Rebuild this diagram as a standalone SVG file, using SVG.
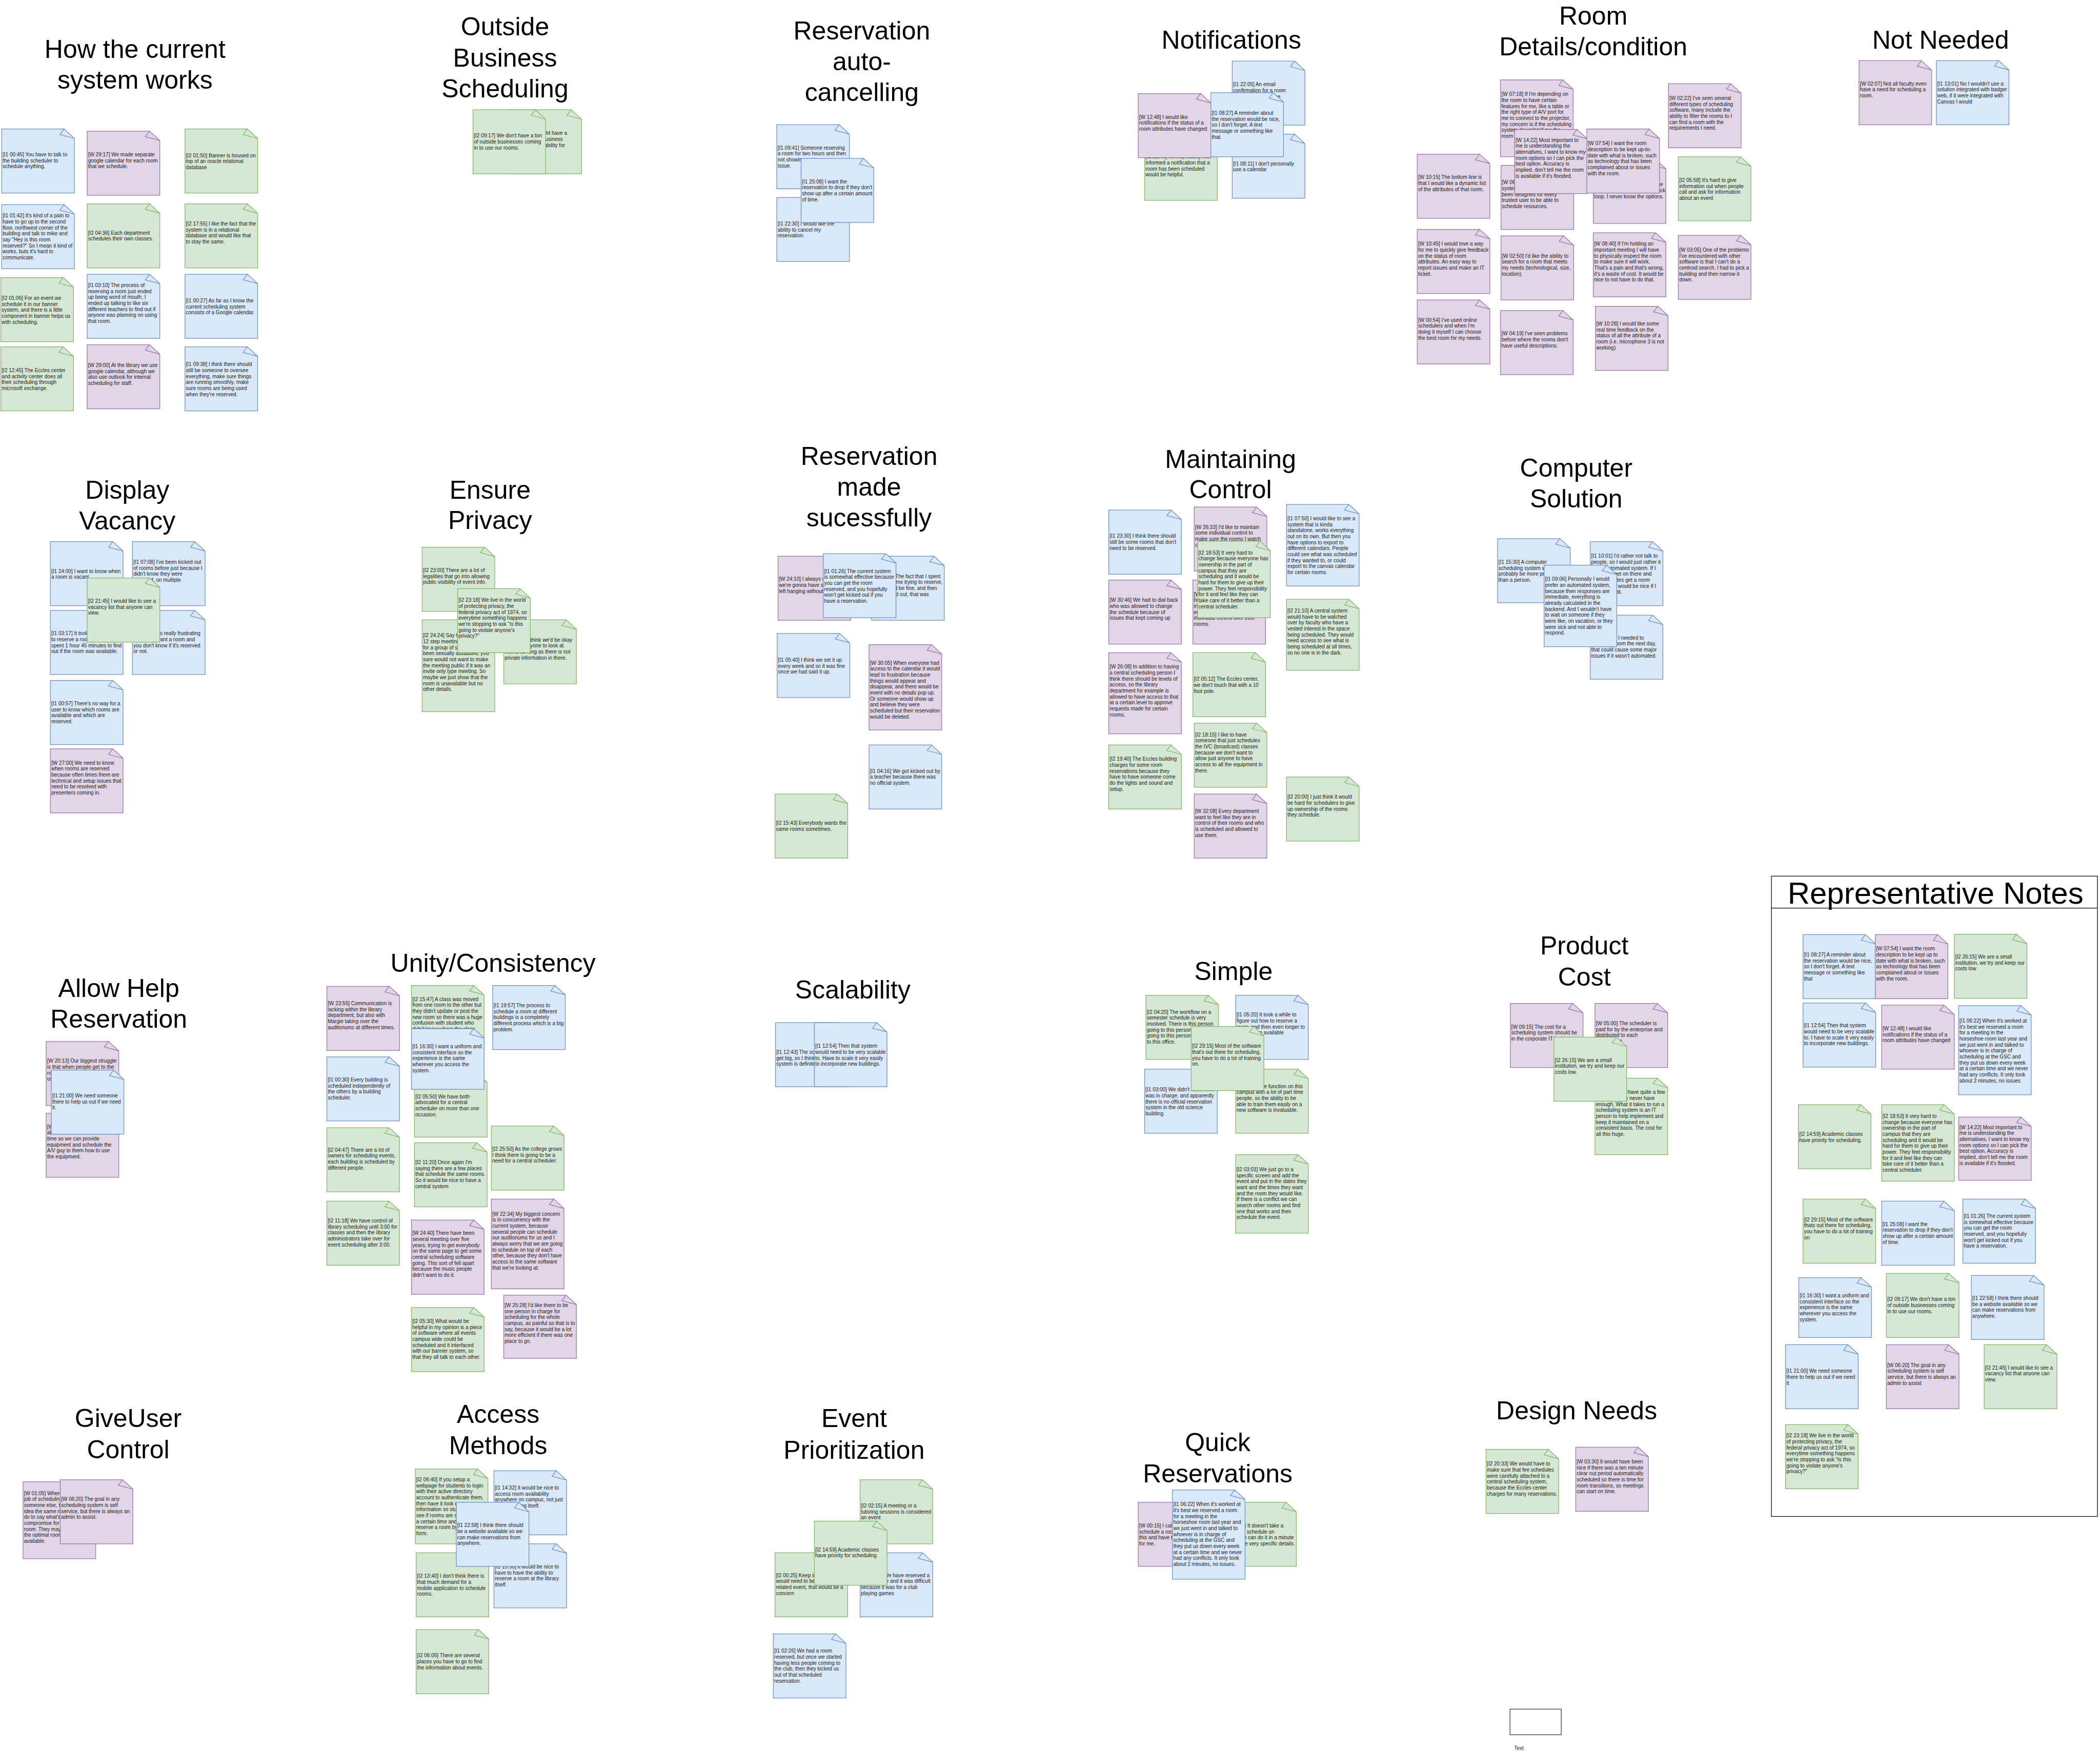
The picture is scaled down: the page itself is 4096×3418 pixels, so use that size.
<svg xmlns="http://www.w3.org/2000/svg" width="4096" height="3418" viewBox="0 0 4096 3418">
<style>
.nb{fill:#dae8fc;stroke:#6c8ebf;stroke-width:1.5}
.ng{fill:#d5e8d4;stroke:#82b366;stroke-width:1.5}
.np{fill:#e1d5e7;stroke:#9673a6;stroke-width:1.5}
.t{font-family:"Liberation Sans",Arial,Helvetica,sans-serif;font-size:12px;fill:#222;stroke:none}
.h{font-family:"Liberation Sans",Arial,Helvetica,sans-serif;font-size:60px;fill:#000;stroke:none;text-anchor:middle}
.h72{font-size:72px}
</style>
<defs><path id="nt" d="M0 0H146L170 22V150H0ZM146 0L170 22L136 13Z"/></defs>
<rect width="4096" height="3418" fill="#fff"/>
<g transform="scale(0.83337)">
<g id="titles">
<g id="t-current"><text class="h" x="316" y="136">How the current</text><text class="h" x="316" y="208">system works</text></g>
<g id="t-outside"><text class="h" x="1182" y="83">Outside</text><text class="h" x="1182" y="156">Business</text><text class="h" x="1182" y="228">Scheduling</text></g>
<g id="t-autocancel"><text class="h" x="2017" y="93">Reservation</text><text class="h" x="2017" y="164">auto-</text><text class="h" x="2017" y="236">cancelling</text></g>
<g id="t-notifications"><text class="h" x="2882" y="114">Notifications</text></g>
<g id="t-room"><text class="h" x="3729" y="58">Room</text><text class="h" x="3729" y="130">Details/condition</text></g>
<g id="t-notneeded"><text class="h" x="4542" y="114">Not Needed</text></g>
<g id="t-vacancy"><text class="h" x="298" y="1167">Display</text><text class="h" x="298" y="1239">Vacancy</text></g>
<g id="t-privacy"><text class="h" x="1147" y="1167">Ensure</text><text class="h" x="1147" y="1238">Privacy</text></g>
<g id="t-success"><text class="h" x="2034" y="1088">Reservation</text><text class="h" x="2034" y="1160">made</text><text class="h" x="2034" y="1232">sucessfully</text></g>
<g id="t-control"><text class="h" x="2880" y="1095">Maintaining</text><text class="h" x="2880" y="1166">Control</text></g>
<g id="t-computer"><text class="h" x="3689" y="1116">Computer</text><text class="h" x="3689" y="1188">Solution</text></g>
<g id="t-help"><text class="h" x="278" y="2334">Allow Help</text><text class="h" x="278" y="2406">Reservation</text></g>
<g id="t-unity"><text class="h" x="1154" y="2275">Unity/Consistency</text></g>
<g id="t-scal"><text class="h" x="1996" y="2337">Scalability</text></g>
<g id="t-simple"><text class="h" x="2887" y="2294">Simple</text></g>
<g id="t-cost"><text class="h" x="3708" y="2234">Product</text><text class="h" x="3708" y="2307">Cost</text></g>
<g id="t-giveuser"><text class="h" x="300" y="3341">GiveUser</text><text class="h" x="300" y="3414">Control</text></g>
<g id="t-access"><text class="h" x="1166" y="3331">Access</text><text class="h" x="1166" y="3404">Methods</text></g>
<g id="t-event"><text class="h" x="1999" y="3341">Event</text><text class="h" x="1999" y="3415">Prioritization</text></g>
<g id="t-quick"><text class="h" x="2850" y="3397">Quick</text><text class="h" x="2850" y="3470">Reservations</text></g>
<g id="t-design"><text class="h" x="3690" y="3323">Design Needs</text></g>
</g>
<g id="representative-notes-box"><rect x="4146" y="2051" width="763" height="1499" fill="none" stroke="#000" stroke-width="1.5"/><line x1="4146" y1="2126" x2="4909" y2="2126" stroke="#000" stroke-width="1.5"/><text class="h h72" x="4530" y="2115">Representative Notes</text></g>
<g id="legend-text"><rect x="3534" y="4001" width="120" height="60" fill="#fff" stroke="#000" stroke-width="1.2"/><text class="t" x="3544" y="4097">Text</text></g>
<g id="connectors"></g>
<g id="notes">
<g id="n1" class="nb" transform="translate(4,302)"><use href="#nt"/><text class="t" y="64"><tspan x="2">[I1 00:45] You have to talk to</tspan><tspan x="2" dy="14">the building scheduler to</tspan><tspan x="2" dy="14">schedule anything.</tspan></text></g>
<g id="n2" class="np" transform="translate(204,307)"><use href="#nt"/><text class="t" y="59"><tspan x="2">[W 29:17] We made separate</tspan><tspan x="2" dy="14">google calendar for each room</tspan><tspan x="2" dy="14">that we schedule.</tspan></text></g>
<g id="n3" class="ng" transform="translate(433,302)"><use href="#nt"/><text class="t" y="66"><tspan x="2">[I2 01:50] Banner is housed on</tspan><tspan x="2" dy="14">top of an oracle relational</tspan><tspan x="2" dy="14">database</tspan></text></g>
<g id="n4" class="nb" transform="translate(4,479)"><use href="#nt"/><text class="t" y="30"><tspan x="2">[I1 01:42]  It's kind of a pain to</tspan><tspan x="2" dy="14">have to go up to the second</tspan><tspan x="2" dy="14">floor, northwest corner of the</tspan><tspan x="2" dy="14">building and talk to mike and</tspan><tspan x="2" dy="14">say "Hey is this room</tspan><tspan x="2" dy="14">reserved?" So I mean it kind of</tspan><tspan x="2" dy="14">works, buts it's hard to</tspan><tspan x="2" dy="14">communicate.</tspan></text></g>
<g id="n5" class="ng" transform="translate(204,477)"><use href="#nt"/><text class="t" y="72"><tspan x="2">[I2 04:36] Each department</tspan><tspan x="2" dy="14">schedules their own classes.</tspan></text></g>
<g id="n6" class="ng" transform="translate(433,477)"><use href="#nt"/><text class="t" y="51"><tspan x="2">[I2 17:55] I like the fact that the</tspan><tspan x="2" dy="14">system is in a relational</tspan><tspan x="2" dy="14">database and would like that</tspan><tspan x="2" dy="14">to stay the same.</tspan></text></g>
<g id="n7" class="ng" transform="translate(2,650)"><use href="#nt"/><text class="t" y="52"><tspan x="2">[I2 01:06] For an event we</tspan><tspan x="2" dy="14">schedule it in our banner</tspan><tspan x="2" dy="14">system, and there is a little</tspan><tspan x="2" dy="14">component in banner helps us</tspan><tspan x="2" dy="14">with scheduling.</tspan></text></g>
<g id="n8" class="nb" transform="translate(204,642)"><use href="#nt"/><text class="t" y="30"><tspan x="2">[I1 03:10] The process of</tspan><tspan x="2" dy="14">reserving a room just ended</tspan><tspan x="2" dy="14">up being word of mouth, I</tspan><tspan x="2" dy="14">ended up talking to like six</tspan><tspan x="2" dy="14">different teachers to find out if</tspan><tspan x="2" dy="14">anyone was planning on using</tspan><tspan x="2" dy="14">that room.</tspan></text></g>
<g id="n9" class="nb" transform="translate(433,642)"><use href="#nt"/><text class="t" y="66"><tspan x="2">[I1 00:27] As far as I know the</tspan><tspan x="2" dy="14">current scheduling system</tspan><tspan x="2" dy="14">consists of a Google calendar.</tspan></text></g>
<g id="n10" class="ng" transform="translate(2,812)"><use href="#nt"/><text class="t" y="59"><tspan x="2">[I2 12:45] The Eccles center</tspan><tspan x="2" dy="14">and activity center does all</tspan><tspan x="2" dy="14">their scheduling through</tspan><tspan x="2" dy="14">microsoft exchange.</tspan></text></g>
<g id="n11" class="np" transform="translate(204,807)"><use href="#nt"/><text class="t" y="52"><tspan x="2">[W 29:00] At the library we use</tspan><tspan x="2" dy="14">google calendar, although we</tspan><tspan x="2" dy="14">also use outlook for internal</tspan><tspan x="2" dy="14">scheduling for staff.</tspan></text></g>
<g id="n12" class="nb" transform="translate(433,812)"><use href="#nt"/><text class="t" y="45"><tspan x="2">[I1 09:38] I think there should</tspan><tspan x="2" dy="14">still be someone to oversee</tspan><tspan x="2" dy="14">everything, make sure things</tspan><tspan x="2" dy="14">are running smoothly, make</tspan><tspan x="2" dy="14">sure rooms are being used</tspan><tspan x="2" dy="14">when they're reserved.</tspan></text></g>
<g id="n13" class="ng" transform="translate(1191,257)"><use href="#nt"/><text class="t" y="59"><tspan x="2">[I2 09:24] It would have a</tspan><tspan x="2" dy="14">nice if outside business</tspan><tspan x="2" dy="14">could have the ability for</tspan><tspan x="2" dy="14">scheduling.</tspan></text></g>
<g id="n14" class="ng" transform="translate(1107,257)"><use href="#nt"/><text class="t" y="65"><tspan x="2">[I2 09:17] We don't have a ton</tspan><tspan x="2" dy="14">of outside businesses coming</tspan><tspan x="2" dy="14">in to use our rooms.</tspan></text></g>
<g id="n15" class="nb" transform="translate(1818,292)"><use href="#nt"/><text class="t" y="58"><tspan x="2">[I1 09:41] Someone reserving</tspan><tspan x="2" dy="14">a room for two hours and then</tspan><tspan x="2" dy="14">not showing up is an</tspan><tspan x="2" dy="14">issue.</tspan></text></g>
<g id="n16" class="nb" transform="translate(1818,462)"><use href="#nt"/><text class="t" y="66"><tspan x="2">[I1 22:30] I would like the</tspan><tspan x="2" dy="14">ability to cancel my</tspan><tspan x="2" dy="14">reservation.</tspan></text></g>
<g id="n17" class="nb" transform="translate(1875,371)"><use href="#nt"/><text class="t" y="58"><tspan x="2">[I1 25:08] I want the</tspan><tspan x="2" dy="14">reservation to drop if they don't</tspan><tspan x="2" dy="14">show up after a certain amount</tspan><tspan x="2" dy="14">of time.</tspan></text></g>
<g id="n18" class="nb" transform="translate(2884,143)"><use href="#nt"/><text class="t" y="59"><tspan x="2">[I1 22:05] An email</tspan><tspan x="2" dy="14">confirmation for a room</tspan><tspan x="2" dy="14">reservation would be</tspan><tspan x="2" dy="14">nice.</tspan></text></g>
<g id="n19" class="nb" transform="translate(2884,314)"><use href="#nt"/><text class="t" y="73"><tspan x="2">[I1 08:11] I don't personally</tspan><tspan x="2" dy="14">use a calendar</tspan></text></g>
<g id="n20" class="ng" transform="translate(2679,319)"><use href="#nt"/><text class="t" y="52"><tspan x="2">[I2 23:40] To help faculty feel</tspan><tspan x="2" dy="14">informed a notification that a</tspan><tspan x="2" dy="14">room has been scheduled</tspan><tspan x="2" dy="14">would be helpful.</tspan></text></g>
<g id="n21" class="np" transform="translate(2664,219)"><use href="#nt"/><text class="t" y="59"><tspan x="2">[W 12:48] I would like</tspan><tspan x="2" dy="14">notifications if the status of a</tspan><tspan x="2" dy="14">room attributes have changed.</tspan></text></g>
<g id="n22" class="nb" transform="translate(2834,217)"><use href="#nt"/><text class="t" y="52"><tspan x="2">[I1 08:27] A reminder about</tspan><tspan x="2" dy="14">the reservation would be nice,</tspan><tspan x="2" dy="14">so I don't forget. A text</tspan><tspan x="2" dy="14">message or something like</tspan><tspan x="2" dy="14">that.</tspan></text></g>
<g id="n23" class="np" transform="translate(3512,187)"><path d="M0 0H146L170 22V180H0ZM146 0L170 22L136 13Z"/><text class="t" y="38"><tspan x="2">[W 07:18] If I'm depending on</tspan><tspan x="2" dy="14">the room to have certain</tspan><tspan x="2" dy="14">features for me, like a table or</tspan><tspan x="2" dy="14">the right type of A/V port for</tspan><tspan x="2" dy="14">me to connect to the projector,</tspan><tspan x="2" dy="14">my concern is if the scheduling</tspan><tspan x="2" dy="14">system doesn't tell me the</tspan><tspan x="2" dy="14">room has them.</tspan></text></g>
<g id="n24" class="np" transform="translate(3513,387)"><use href="#nt"/><text class="t" y="44"><tspan x="2">[W 06:35] The current</tspan><tspan x="2" dy="14">system has not really</tspan><tspan x="2" dy="14">been designed for every</tspan><tspan x="2" dy="14">trusted user to be able to</tspan><tspan x="2" dy="14">schedule resources.</tspan></text></g>
<g id="n25" class="np" transform="translate(3545,303)"><use href="#nt"/><text class="t" y="29"><tspan x="2">[W 14:22] Most important to</tspan><tspan x="2" dy="14">me is understanding the</tspan><tspan x="2" dy="14">alternatives, I want to know my</tspan><tspan x="2" dy="14">room options so I can pick the</tspan><tspan x="2" dy="14">best option. Accuracy is</tspan><tspan x="2" dy="14">implied, don't tell me the room</tspan><tspan x="2" dy="14">is available if it's flooded.</tspan></text></g>
<g id="n26" class="np" transform="translate(3317,361)"><use href="#nt"/><text class="t" y="58"><tspan x="2">[W 10:15] The bottom line is</tspan><tspan x="2" dy="14">that I would like a dynamic list</tspan><tspan x="2" dy="14">of the attributes of that room.</tspan></text></g>
<g id="n27" class="np" transform="translate(3317,537)"><use href="#nt"/><text class="t" y="38"><tspan x="2">[W 10:45] I would love a way</tspan><tspan x="2" dy="14">for me to quickly give feedback</tspan><tspan x="2" dy="14">on the status of room</tspan><tspan x="2" dy="14">attributes. An easy way to</tspan><tspan x="2" dy="14">report issues and make an IT</tspan><tspan x="2" dy="14">ticket.</tspan></text></g>
<g id="n28" class="np" transform="translate(3513,552)"><use href="#nt"/><text class="t" y="51"><tspan x="2">[W 02:50] I'd like the ability to</tspan><tspan x="2" dy="14">search for a room that meets</tspan><tspan x="2" dy="14">my needs (technological, size,</tspan><tspan x="2" dy="14">location).</tspan></text></g>
<g id="n29" class="np" transform="translate(3317,702)"><use href="#nt"/><text class="t" y="51"><tspan x="2">[W 00:54] I've used online</tspan><tspan x="2" dy="14">schedulers and when I'm</tspan><tspan x="2" dy="14">doing it myself I can choose</tspan><tspan x="2" dy="14">the best room for my needs.</tspan></text></g>
<g id="n30" class="np" transform="translate(3512,727)"><use href="#nt"/><text class="t" y="58"><tspan x="2">[W 04:19] I've seen problems</tspan><tspan x="2" dy="14">before where the rooms don't</tspan><tspan x="2" dy="14">have useful descriptions.</tspan></text></g>
<g id="n31" class="np" transform="translate(3729,373)"><use href="#nt"/><text class="t" y="49"><tspan x="2">[W 09:02] I report issues but</tspan><tspan x="2" dy="14">never hear back, I'm not in the</tspan><tspan x="2" dy="14">communication or the feedback</tspan><tspan x="2" dy="14">loop. I never know the options.</tspan></text></g>
<g id="n32" class="np" transform="translate(3714,302)"><use href="#nt"/><text class="t" y="38"><tspan x="2">[W 07:54] I want the room</tspan><tspan x="2" dy="14">description to be kept up-to-</tspan><tspan x="2" dy="14">date with what is broken, such</tspan><tspan x="2" dy="14">as technology that has been</tspan><tspan x="2" dy="14">complained about or issues</tspan><tspan x="2" dy="14">with the room.</tspan></text></g>
<g id="n33" class="np" transform="translate(3905,196)"><use href="#nt"/><text class="t" y="38"><tspan x="2">[W 02:22] I've seen several</tspan><tspan x="2" dy="14">different types of scheduling</tspan><tspan x="2" dy="14">software, many include the</tspan><tspan x="2" dy="14">ability to filter the rooms to I</tspan><tspan x="2" dy="14">can find a room with the</tspan><tspan x="2" dy="14">requirements I need.</tspan></text></g>
<g id="n34" class="ng" transform="translate(3928,367)"><use href="#nt"/><text class="t" y="59"><tspan x="2">[I2 05:58] It's hard to give</tspan><tspan x="2" dy="14">information out when people</tspan><tspan x="2" dy="14">call and ask for information</tspan><tspan x="2" dy="14">about an event</tspan></text></g>
<g id="n35" class="np" transform="translate(3729,545)"><use href="#nt"/><text class="t" y="30"><tspan x="2">[W 08:40] If I'm holding an</tspan><tspan x="2" dy="14">important meeting I will have</tspan><tspan x="2" dy="14">to physically inspect the room</tspan><tspan x="2" dy="14">to make sure it will work.</tspan><tspan x="2" dy="14">That's a pain and that's wrong,</tspan><tspan x="2" dy="14">it's a waste of cost. It would be</tspan><tspan x="2" dy="14">nice to not have to do that.</tspan></text></g>
<g id="n36" class="np" transform="translate(3928,551)"><use href="#nt"/><text class="t" y="38"><tspan x="2">[W 03:05] One of the problems</tspan><tspan x="2" dy="14">I've encountered with other</tspan><tspan x="2" dy="14">software is that I can't do a</tspan><tspan x="2" dy="14">centroid search. I had to pick a</tspan><tspan x="2" dy="14">building and then narrow it</tspan><tspan x="2" dy="14">down.</tspan></text></g>
<g id="n37" class="np" transform="translate(3734,717)"><use href="#nt"/><text class="t" y="45"><tspan x="2">[W 10:28] I would like some</tspan><tspan x="2" dy="14">real time feedback on the</tspan><tspan x="2" dy="14">status of all the attribute of a</tspan><tspan x="2" dy="14">room (i.e. microphone 3 is not</tspan><tspan x="2" dy="14">working)</tspan></text></g>
<g id="n38" class="np" transform="translate(4351,142)"><use href="#nt"/><text class="t" y="58"><tspan x="2">[W 02:07] Not all faculty even</tspan><tspan x="2" dy="14">have a need for scheduling a</tspan><tspan x="2" dy="14">room.</tspan></text></g>
<g id="n39" class="nb" transform="translate(4532,142)"><use href="#nt"/><text class="t" y="58"><tspan x="2">[I1 13:01] No I wouldn't use a</tspan><tspan x="2" dy="14">solution integrated with badger</tspan><tspan x="2" dy="14">web, if it were integrated with</tspan><tspan x="2" dy="14">Canvas I would</tspan></text></g>
<g id="n40" class="nb" transform="translate(118,1268)"><use href="#nt"/><text class="t" y="73"><tspan x="2">[I1 24:00] I want to know when</tspan><tspan x="2" dy="14">a room is vacant.</tspan></text></g>
<g id="n41" class="nb" transform="translate(310,1268)"><use href="#nt"/><text class="t" y="52"><tspan x="2">[I1 07:08] I've been kicked out</tspan><tspan x="2" dy="14">of rooms before just because I</tspan><tspan x="2" dy="14">didn't know they were</tspan><tspan x="2" dy="14">reserved, on multiple</tspan><tspan x="2" dy="14">occasions.</tspan></text></g>
<g id="n42" class="nb" transform="translate(118,1429)"><use href="#nt"/><text class="t" y="58"><tspan x="2">[I1 03:17] It took me forever</tspan><tspan x="2" dy="14">to reserve a room. I once</tspan><tspan x="2" dy="14">spent 1 hour 45 minutes to find</tspan><tspan x="2" dy="14">out if the room was available.</tspan></text></g>
<g id="n43" class="nb" transform="translate(310,1429)"><use href="#nt"/><text class="t" y="58"><tspan x="2">[I1 07:25] It's really frustrating</tspan><tspan x="2" dy="14">when you want a room and</tspan><tspan x="2" dy="14">you don't know if it's reserved</tspan><tspan x="2" dy="14">or not.</tspan></text></g>
<g id="n44" class="ng" transform="translate(204,1353)"><use href="#nt"/><text class="t" y="58"><tspan x="2">[I2 21:45] I would like to see a</tspan><tspan x="2" dy="14">vacancy list that anyone can</tspan><tspan x="2" dy="14">view.</tspan></text></g>
<g id="n45" class="nb" transform="translate(118,1593)"><use href="#nt"/><text class="t" y="58"><tspan x="2">[I1 00:57] There's no way for a</tspan><tspan x="2" dy="14">user to know which rooms are</tspan><tspan x="2" dy="14">available and which are</tspan><tspan x="2" dy="14">reserved.</tspan></text></g>
<g id="n46" class="np" transform="translate(118,1753)"><use href="#nt"/><text class="t" y="37"><tspan x="2">[W 27:00] We need to know</tspan><tspan x="2" dy="14">when rooms are reserved</tspan><tspan x="2" dy="14">because often times there are</tspan><tspan x="2" dy="14">technical and setup issues that</tspan><tspan x="2" dy="14">need to be resolved with</tspan><tspan x="2" dy="14">presenters coming in.</tspan></text></g>
<g id="n47" class="ng" transform="translate(988,1281)"><use href="#nt"/><text class="t" y="58"><tspan x="2">[I2 23:00]  There are a lot of</tspan><tspan x="2" dy="14">legalities that go into allowing</tspan><tspan x="2" dy="14">public visibility of event info.</tspan></text></g>
<g id="n48" class="ng" transform="translate(988,1451)"><path d="M0 0H146L170 22V215H0ZM146 0L170 22L136 13Z"/><text class="t" y="41"><tspan x="2">[I2 24:24] Say there's a</tspan><tspan x="2" dy="14">12 step meeting, or a meeting</tspan><tspan x="2" dy="14">for a group of students who've</tspan><tspan x="2" dy="14">been sexually assaulted, you</tspan><tspan x="2" dy="14">sure would not want to make</tspan><tspan x="2" dy="14">the meeting public if it was an</tspan><tspan x="2" dy="14">invite only type meeting. So</tspan><tspan x="2" dy="14">maybe we just show that the</tspan><tspan x="2" dy="14">room is unavailable but no</tspan><tspan x="2" dy="14">other details.</tspan></text></g>
<g id="n49" class="ng" transform="translate(1179,1451)"><use href="#nt"/><text class="t" y="51"><tspan x="2">[I2 24:50] I think we'd be okay</tspan><tspan x="2" dy="14">allowing anyone to look at</tspan><tspan x="2" dy="14">rooms as long as there is not</tspan><tspan x="2" dy="14">private information in there.</tspan></text></g>
<g id="n50" class="ng" transform="translate(1071,1378)"><use href="#nt"/><text class="t" y="31"><tspan x="2">[I2 23:18] We live in the world</tspan><tspan x="2" dy="14">of protecting privacy, the</tspan><tspan x="2" dy="14">federal privacy act of 1974, so</tspan><tspan x="2" dy="14">everytime something happens</tspan><tspan x="2" dy="14">we're stopping to ask “Is this</tspan><tspan x="2" dy="14">going to violate anyone's</tspan><tspan x="2" dy="14">privacy?”</tspan></text></g>
<g id="n51" class="np" transform="translate(1821,1302)"><use href="#nt"/><text class="t" y="58"><tspan x="2">[W 24:10] I always worry</tspan><tspan x="2" dy="14">we're gonna have someone</tspan><tspan x="2" dy="14">left hanging without a room.</tspan></text></g>
<g id="n52" class="nb" transform="translate(2040,1302)"><use href="#nt"/><text class="t" y="51"><tspan x="2">[I1 06:00] The fact that I spent</tspan><tspan x="2" dy="14">so much time trying to reserve,</tspan><tspan x="2" dy="14">thought it'd be fine, and then</tspan><tspan x="2" dy="14">I got kicked out, that was</tspan></text></g>
<g id="n53" class="nb" transform="translate(1927,1296)"><use href="#nt"/><text class="t" y="45"><tspan x="2">[I1 01:26] The current system</tspan><tspan x="2" dy="14">is somewhat effective because</tspan><tspan x="2" dy="14">you can get the room</tspan><tspan x="2" dy="14">reserved, and you hopefully</tspan><tspan x="2" dy="14">won't get kicked out if you</tspan><tspan x="2" dy="14">have a reservation.</tspan></text></g>
<g id="n54" class="nb" transform="translate(1819,1483)"><use href="#nt"/><text class="t" y="66"><tspan x="2">[I1 05:40] I think we set it up</tspan><tspan x="2" dy="14">every week and so it was fine</tspan><tspan x="2" dy="14">once we had said it up.</tspan></text></g>
<g id="n55" class="np" transform="translate(2034,1509)"><path d="M0 0H146L170 22V200H0ZM146 0L170 22L136 13Z"/><text class="t" y="47"><tspan x="2">[W 30:05] When everyone had</tspan><tspan x="2" dy="14">access to the calendar it would</tspan><tspan x="2" dy="14">lead to frustration because</tspan><tspan x="2" dy="14">things would appear and</tspan><tspan x="2" dy="14">disappear, and there would be</tspan><tspan x="2" dy="14">event with no details pop up.</tspan><tspan x="2" dy="14">Or someone would show up</tspan><tspan x="2" dy="14">and believe they were</tspan><tspan x="2" dy="14">scheduled but their reservation</tspan><tspan x="2" dy="14">would be deleted.</tspan></text></g>
<g id="n56" class="nb" transform="translate(2034,1744)"><use href="#nt"/><text class="t" y="65"><tspan x="2">[I1 04:16] We got kicked out by</tspan><tspan x="2" dy="14">a teacher because there was</tspan><tspan x="2" dy="14">no official system.</tspan></text></g>
<g id="n57" class="ng" transform="translate(1814,1859)"><use href="#nt"/><text class="t" y="72"><tspan x="2">[I2 15:43] Everybody wants the</tspan><tspan x="2" dy="14">same rooms sometimes.</tspan></text></g>
<g id="n58" class="nb" transform="translate(2595,1194)"><use href="#nt"/><text class="t" y="65"><tspan x="2">[I1 23:30] I think there should</tspan><tspan x="2" dy="14">still be some rooms that don't</tspan><tspan x="2" dy="14">need to be reserved.</tspan></text></g>
<g id="n59" class="np" transform="translate(2795,1187)"><use href="#nt"/><text class="t" y="51"><tspan x="2">[W 26:33] I'd like to maintain</tspan><tspan x="2" dy="14">some individual control to</tspan><tspan x="2" dy="14">make sure the rooms I watch</tspan><tspan x="2" dy="14">over are taken care of.</tspan></text></g>
<g id="n60" class="np" transform="translate(2792,1358)"><use href="#nt"/><text class="t" y="37"><tspan x="2">[W 31:15] Each department</tspan><tspan x="2" dy="14">believes they should have</tspan><tspan x="2" dy="14">in some way their own</tspan><tspan x="2" dy="14">equal and</tspan><tspan x="2" dy="14">individual control over their</tspan><tspan x="2" dy="14">rooms.</tspan></text></g>
<g id="n61" class="ng" transform="translate(2803,1267)"><path d="M0 0H146L170 22V179H0ZM146 0L170 22L136 13Z"/><text class="t" y="31"><tspan x="2">[I2 18:53] It very hard to</tspan><tspan x="2" dy="14">change because everyone has</tspan><tspan x="2" dy="14">ownership in the part of</tspan><tspan x="2" dy="14">campus that they are</tspan><tspan x="2" dy="14">scheduling and it would be</tspan><tspan x="2" dy="14">hard for them to give up their</tspan><tspan x="2" dy="14">power. They feel responsibility</tspan><tspan x="2" dy="14">for it and feel like they can</tspan><tspan x="2" dy="14">take care of it better than a</tspan><tspan x="2" dy="14">central scheduler.</tspan></text></g>
<g id="n62" class="nb" transform="translate(3011,1181)"><path d="M0 0H146L170 22V191H0ZM146 0L170 22L136 13Z"/><text class="t" y="37"><tspan x="2">[I1 07:50] I would like to see a</tspan><tspan x="2" dy="14">system that is kinda</tspan><tspan x="2" dy="14">standalone, works everything</tspan><tspan x="2" dy="14">out on its own. But then you</tspan><tspan x="2" dy="14">have options to export to</tspan><tspan x="2" dy="14">different calendars. People</tspan><tspan x="2" dy="14">could see what was scheduled</tspan><tspan x="2" dy="14">if they wanted to, or could</tspan><tspan x="2" dy="14">export to the canvas calendar</tspan><tspan x="2" dy="14">for certain rooms.</tspan></text></g>
<g id="n63" class="np" transform="translate(2595,1358)"><use href="#nt"/><text class="t" y="51"><tspan x="2">[W 30:46] We had to dial back</tspan><tspan x="2" dy="14">who was allowed to change</tspan><tspan x="2" dy="14">the schedule because of</tspan><tspan x="2" dy="14">issues that kept coming up</tspan></text></g>
<g id="n64" class="ng" transform="translate(3011,1403)"><path d="M0 0H146L170 22V166H0ZM146 0L170 22L136 13Z"/><text class="t" y="31"><tspan x="2">[I2 21:10] A central system</tspan><tspan x="2" dy="14">would have to be watched</tspan><tspan x="2" dy="14">over by faculty who have a</tspan><tspan x="2" dy="14">vested interest in the space</tspan><tspan x="2" dy="14">being scheduled. They would</tspan><tspan x="2" dy="14">need access to see what is</tspan><tspan x="2" dy="14">being scheduled at all times,</tspan><tspan x="2" dy="14">so no one is in the dark.</tspan></text></g>
<g id="n65" class="np" transform="translate(2595,1528)"><path d="M0 0H146L170 22V190H0ZM146 0L170 22L136 13Z"/><text class="t" y="37"><tspan x="2">[W 26:08] In addition to having</tspan><tspan x="2" dy="14">a central scheduling person I</tspan><tspan x="2" dy="14">think there should be levels of</tspan><tspan x="2" dy="14">access, so the library</tspan><tspan x="2" dy="14">department for example is</tspan><tspan x="2" dy="14">allowed to have access to that</tspan><tspan x="2" dy="14">at a certain level to approve</tspan><tspan x="2" dy="14">requests made for certain</tspan><tspan x="2" dy="14">rooms.</tspan></text></g>
<g id="n66" class="ng" transform="translate(2792,1528)"><use href="#nt"/><text class="t" y="66"><tspan x="2">[I2 05:12] The Eccles center,</tspan><tspan x="2" dy="14">we don't touch that with a 10</tspan><tspan x="2" dy="14">foot pole.</tspan></text></g>
<g id="n67" class="ng" transform="translate(2795,1693)"><use href="#nt"/><text class="t" y="31"><tspan x="2">[I2 18:15] I like to have</tspan><tspan x="2" dy="14">someone that just schedules</tspan><tspan x="2" dy="14">the IVC (broadcast) classes</tspan><tspan x="2" dy="14">because we don't want to</tspan><tspan x="2" dy="14">allow just anyone to have</tspan><tspan x="2" dy="14">access to all the equipment in</tspan><tspan x="2" dy="14">there.</tspan></text></g>
<g id="n68" class="ng" transform="translate(2595,1744)"><use href="#nt"/><text class="t" y="37"><tspan x="2">[I2 19:40] The Eccles building</tspan><tspan x="2" dy="14">charges for some room</tspan><tspan x="2" dy="14">reservations because they</tspan><tspan x="2" dy="14">have to have someone come</tspan><tspan x="2" dy="14">do the lights and sound and</tspan><tspan x="2" dy="14">setup.</tspan></text></g>
<g id="n69" class="np" transform="translate(2795,1859)"><use href="#nt"/><text class="t" y="44"><tspan x="2">[W 32:08] Every department</tspan><tspan x="2" dy="14">want to feel like they are in</tspan><tspan x="2" dy="14">control of their rooms and who</tspan><tspan x="2" dy="14">is scheduled and allowed to</tspan><tspan x="2" dy="14">use them.</tspan></text></g>
<g id="n70" class="ng" transform="translate(3011,1819)"><use href="#nt"/><text class="t" y="51"><tspan x="2">[I2 20:00] I just think it would</tspan><tspan x="2" dy="14">be hard for schedulers to give</tspan><tspan x="2" dy="14">up ownership of the rooms</tspan><tspan x="2" dy="14">they schedule.</tspan></text></g>
<g id="n71" class="nb" transform="translate(3505,1261)"><use href="#nt"/><text class="t" y="59"><tspan x="2">[I1 15:30] A computer</tspan><tspan x="2" dy="14">scheduling system would</tspan><tspan x="2" dy="14">probably be more precise</tspan><tspan x="2" dy="14">than a person.</tspan></text></g>
<g id="n72" class="nb" transform="translate(3722,1268)"><use href="#nt"/><text class="t" y="38"><tspan x="2">[I1 10:01]  I'd rather not talk to</tspan><tspan x="2" dy="14">people, so I would just rather it</tspan><tspan x="2" dy="14">be an automated system. If I</tspan><tspan x="2" dy="14">could just get on there and</tspan><tspan x="2" dy="14">in five minutes get a room</tspan><tspan x="2" dy="14">reserved, it would be nice if I</tspan><tspan x="2" dy="14">could do that.</tspan></text></g>
<g id="n73" class="nb" transform="translate(3722,1440)"><use href="#nt"/><text class="t" y="57"><tspan x="2">[I1 10:15] If I needed to</tspan><tspan x="2" dy="14">reserve a room the next day,</tspan><tspan x="2" dy="14">that could cause some major</tspan><tspan x="2" dy="14">issues if it wasn't automated.</tspan></text></g>
<g id="n74" class="nb" transform="translate(3614,1323)"><path d="M0 0H146L170 22V191H0ZM146 0L170 22L136 13Z"/><text class="t" y="37"><tspan x="2">[I1 09:06] Personally I would</tspan><tspan x="2" dy="14">prefer an automated system,</tspan><tspan x="2" dy="14">because then responses are</tspan><tspan x="2" dy="14">immediate, everything is</tspan><tspan x="2" dy="14">already calculated in the</tspan><tspan x="2" dy="14">backend. And I wouldn't have</tspan><tspan x="2" dy="14">to wait on someone if they</tspan><tspan x="2" dy="14">were like, on vacation, or they</tspan><tspan x="2" dy="14">were sick and not able to</tspan><tspan x="2" dy="14">respond.</tspan></text></g>
<g id="n75" class="np" transform="translate(108,2438)"><use href="#nt"/><text class="t" y="50"><tspan x="2">[W 20:13] Our biggest struggle</tspan><tspan x="2" dy="14">is that when people get to the</tspan><tspan x="2" dy="14">room they don't know how to</tspan><tspan x="2" dy="14">use the equipment.</tspan></text></g>
<g id="n76" class="np" transform="translate(108,2606)"><use href="#nt"/><text class="t" y="36"><tspan x="2">[W 20:40] We need to know</tspan><tspan x="2" dy="14">about a reservation ahead of</tspan><tspan x="2" dy="14">time so we can provide</tspan><tspan x="2" dy="14">equipment and schedule the</tspan><tspan x="2" dy="14">A/V guy to them how to use</tspan><tspan x="2" dy="14">the equipment.</tspan></text></g>
<g id="n77" class="nb" transform="translate(120,2505)"><use href="#nt"/><text class="t" y="64"><tspan x="2">[I1 21:00] We need someone</tspan><tspan x="2" dy="14">there to help us out if we need</tspan><tspan x="2" dy="14">it.</tspan></text></g>
<g id="n78" class="np" transform="translate(54,3469)"><path d="M0 0H146L170 22V180H0ZM146 0L170 22L136 13Z"/><text class="t" y="31"><tspan x="2">[W 01:05] When it's the</tspan><tspan x="2" dy="14">job of scheduling for</tspan><tspan x="2" dy="14">someone else, they have no</tspan><tspan x="2" dy="14">idea the same needs I</tspan><tspan x="2" dy="14">do to say what's best. They</tspan><tspan x="2" dy="14">compromise for a different</tspan><tspan x="2" dy="14">room. They may not pick</tspan><tspan x="2" dy="14">the optimal room that's</tspan><tspan x="2" dy="14">available.</tspan></text></g>
<g id="n79" class="np" transform="translate(141,3464)"><use href="#nt"/><text class="t" y="50"><tspan x="2">[W 06:20] The goal in any</tspan><tspan x="2" dy="14">scheduling system is self</tspan><tspan x="2" dy="14">service, but there is always an</tspan><tspan x="2" dy="14">admin to assist.</tspan></text></g>
<g id="n80" class="np" transform="translate(765,2309)"><use href="#nt"/><text class="t" y="44"><tspan x="2">[W 23:55] Communication is</tspan><tspan x="2" dy="14">lacking within the library</tspan><tspan x="2" dy="14">department, but also with</tspan><tspan x="2" dy="14">Margie taking over the</tspan><tspan x="2" dy="14">auditoriums at different times.</tspan></text></g>
<g id="n81" class="ng" transform="translate(963,2307)"><use href="#nt"/><text class="t" y="36"><tspan x="2">[I2 15:47] A class was moved</tspan><tspan x="2" dy="14">from one room to the other but</tspan><tspan x="2" dy="14">they didn't update or post the</tspan><tspan x="2" dy="14">new room so there was a huge</tspan><tspan x="2" dy="14">confusion with student who</tspan><tspan x="2" dy="14">didn't know where the class</tspan><tspan x="2" dy="14">was.</tspan></text></g>
<g id="n82" class="nb" transform="translate(1153,2307)"><use href="#nt"/><text class="t" y="51"><tspan x="2">[I1 19:57] The process to</tspan><tspan x="2" dy="14">schedule a room at different</tspan><tspan x="2" dy="14">buildings is a completely</tspan><tspan x="2" dy="14">different process which is a big</tspan><tspan x="2" dy="14">problem.</tspan></text></g>
<g id="n83" class="nb" transform="translate(765,2474)"><use href="#nt"/><text class="t" y="58"><tspan x="2">[I1 00:30] Every building is</tspan><tspan x="2" dy="14">scheduled independently of</tspan><tspan x="2" dy="14">the others by a building</tspan><tspan x="2" dy="14">scheduler.</tspan></text></g>
<g id="n84" class="ng" transform="translate(970,2512)"><use href="#nt"/><text class="t" y="59"><tspan x="2">[I2 05:50] We have both</tspan><tspan x="2" dy="14">advocated for a central</tspan><tspan x="2" dy="14">scheduler on more than one</tspan><tspan x="2" dy="14">occasion.</tspan></text></g>
<g id="n85" class="nb" transform="translate(963,2408)"><path d="M0 0H146L170 22V142H0ZM146 0L170 22L136 13Z"/><text class="t" y="46"><tspan x="2">[I1 16:30] I want a uniform and</tspan><tspan x="2" dy="14">consistent interface so the</tspan><tspan x="2" dy="14">experience is the same</tspan><tspan x="2" dy="14">wherever you access the</tspan><tspan x="2" dy="14">system.</tspan></text></g>
<g id="n86" class="ng" transform="translate(765,2640)"><use href="#nt"/><text class="t" y="56"><tspan x="2">[I2 04:47] There are a lot of</tspan><tspan x="2" dy="14">owners for scheduling events,</tspan><tspan x="2" dy="14">each building is scheduled by</tspan><tspan x="2" dy="14">different people.</tspan></text></g>
<g id="n87" class="ng" transform="translate(970,2675)"><use href="#nt"/><text class="t" y="50"><tspan x="2">[I2 11:20] Once again I'm</tspan><tspan x="2" dy="14">saying there are a few places</tspan><tspan x="2" dy="14">that schedule the same rooms.</tspan><tspan x="2" dy="14">So it would be nice to have a</tspan><tspan x="2" dy="14">central system</tspan></text></g>
<g id="n88" class="ng" transform="translate(1150,2636)"><use href="#nt"/><text class="t" y="58"><tspan x="2">[I2 25:50] As the college grows</tspan><tspan x="2" dy="14">I think there is going to be a</tspan><tspan x="2" dy="14">need for a central scheduler.</tspan></text></g>
<g id="n89" class="ng" transform="translate(765,2812)"><use href="#nt"/><text class="t" y="50"><tspan x="2">[I2 11:18] We have control of</tspan><tspan x="2" dy="14">library scheduling until 3:00 for</tspan><tspan x="2" dy="14">classes and then the library</tspan><tspan x="2" dy="14">administrators take over for</tspan><tspan x="2" dy="14">event scheduling after 3:00.</tspan></text></g>
<g id="n90" class="np" transform="translate(963,2856)"><path d="M0 0H146L170 22V174H0ZM146 0L170 22L136 13Z"/><text class="t" y="35"><tspan x="2">[W 24:40] There have been</tspan><tspan x="2" dy="14">several meeting over five</tspan><tspan x="2" dy="14">years, trying to get everybody</tspan><tspan x="2" dy="14">on the same page to get some</tspan><tspan x="2" dy="14">central scheduling software</tspan><tspan x="2" dy="14">going. This sort of fell apart</tspan><tspan x="2" dy="14">because the music people</tspan><tspan x="2" dy="14">didn't want to do it.</tspan></text></g>
<g id="n91" class="np" transform="translate(1150,2807)"><path d="M0 0H146L170 22V210H0ZM146 0L170 22L136 13Z"/><text class="t" y="39"><tspan x="2">[W 22:34] My biggest concern</tspan><tspan x="2" dy="14">is in concurrency with the</tspan><tspan x="2" dy="14">current system, because</tspan><tspan x="2" dy="14">several people can schedule</tspan><tspan x="2" dy="14">our auditoriums for us and I</tspan><tspan x="2" dy="14">always worry that we are going</tspan><tspan x="2" dy="14">to schedule on top of each</tspan><tspan x="2" dy="14">other, because they don't have</tspan><tspan x="2" dy="14">access to the same software</tspan><tspan x="2" dy="14">that we're looking at.</tspan></text></g>
<g id="n92" class="ng" transform="translate(963,3061)"><use href="#nt"/><text class="t" y="36"><tspan x="2">[I2 05:30] What would be</tspan><tspan x="2" dy="14">helpful in my opinion is a piece</tspan><tspan x="2" dy="14">of software where all events</tspan><tspan x="2" dy="14">campus wide could be</tspan><tspan x="2" dy="14">scheduled and it interfaced</tspan><tspan x="2" dy="14">with our banner system, so</tspan><tspan x="2" dy="14">that they all talk to each other.</tspan></text></g>
<g id="n93" class="np" transform="translate(1179,3032)"><path d="M0 0H146L170 22V148H0ZM146 0L170 22L136 13Z"/><text class="t" y="28"><tspan x="2">[W 25:28] I'd like there to be</tspan><tspan x="2" dy="14">one person in charge for</tspan><tspan x="2" dy="14">scheduling for the whole</tspan><tspan x="2" dy="14">campus, as painful as that is to</tspan><tspan x="2" dy="14">say, because it would be a lot</tspan><tspan x="2" dy="14">more efficient if there was one</tspan><tspan x="2" dy="14">place to go.</tspan></text></g>
<g id="n94" class="ng" transform="translate(972,3439)"><path d="M0 0H146L170 22V175H0ZM146 0L170 22L136 13Z"/><text class="t" y="29"><tspan x="2">[I2 06:40] If you setup a</tspan><tspan x="2" dy="14">webpage for students to login</tspan><tspan x="2" dy="14">with their active directory</tspan><tspan x="2" dy="14">account to authenticate them,</tspan><tspan x="2" dy="14">then have it look up</tspan><tspan x="2" dy="14">information so students can</tspan><tspan x="2" dy="14">see if rooms are available at</tspan><tspan x="2" dy="14">a certain time and then</tspan><tspan x="2" dy="14">reserve a room by filling a</tspan><tspan x="2" dy="14">form.</tspan></text></g>
<g id="n95" class="nb" transform="translate(1156,3443)"><use href="#nt"/><text class="t" y="44"><tspan x="2">[I1 14:32] It would be nice to</tspan><tspan x="2" dy="14">access room availability</tspan><tspan x="2" dy="14">anywhere on campus, not just</tspan><tspan x="2" dy="14">in the building itself.</tspan></text></g>
<g id="n96" class="ng" transform="translate(974,3635)"><use href="#nt"/><text class="t" y="59"><tspan x="2">[I2 13:40] I don't think there is</tspan><tspan x="2" dy="14">that much demand for a</tspan><tspan x="2" dy="14">mobile application to schedule</tspan><tspan x="2" dy="14">rooms.</tspan></text></g>
<g id="n97" class="nb" transform="translate(1156,3614)"><use href="#nt"/><text class="t" y="58"><tspan x="2">[I1 15:50] It would be nice to</tspan><tspan x="2" dy="14">have to have the ability to</tspan><tspan x="2" dy="14">reserve a room at the library</tspan><tspan x="2" dy="14">itself.</tspan></text></g>
<g id="n98" class="nb" transform="translate(1068,3517)"><use href="#nt"/><text class="t" y="58"><tspan x="2">[I1 22:58] I think there should</tspan><tspan x="2" dy="14">be a website available so we</tspan><tspan x="2" dy="14">can make reservations from</tspan><tspan x="2" dy="14">anywhere.</tspan></text></g>
<g id="n99" class="ng" transform="translate(974,3815)"><use href="#nt"/><text class="t" y="65"><tspan x="2">[I2 06:05] There are several</tspan><tspan x="2" dy="14">places you have to go to find</tspan><tspan x="2" dy="14">the information about events.</tspan></text></g>
<g id="n100" class="nb" transform="translate(1815,2394)"><use href="#nt"/><text class="t" y="73"><tspan x="2">[I1 12:43] The school will</tspan><tspan x="2" dy="14">get big, so I think the</tspan><tspan x="2" dy="14">system is definitely needed.</tspan></text></g>
<g id="n101" class="nb" transform="translate(1906,2394)"><use href="#nt"/><text class="t" y="59"><tspan x="2">[I1 12:54]  Then that system</tspan><tspan x="2" dy="14">would need to be very scalable</tspan><tspan x="2" dy="14">to. Have to scale it very easily</tspan><tspan x="2" dy="14">to incorporate new buildings.</tspan></text></g>
<g id="n102" class="ng" transform="translate(2682,2330)"><use href="#nt"/><text class="t" y="43"><tspan x="2">[I2 04:20] The workflow on a</tspan><tspan x="2" dy="14">semester schedule is very</tspan><tspan x="2" dy="14">involved.  There is this person</tspan><tspan x="2" dy="14">going to this person, then</tspan><tspan x="2" dy="14">going to this person, then</tspan><tspan x="2" dy="14">to this office.</tspan></text></g>
<g id="n103" class="nb" transform="translate(2892,2330)"><use href="#nt"/><text class="t" y="50"><tspan x="2">[I1 05:20] It took a while to</tspan><tspan x="2" dy="14">figure out how to reserve a</tspan><tspan x="2" dy="14">room, and then even longer to</tspan><tspan x="2" dy="14">find a room available</tspan><tspan x="2" dy="14">at the time.</tspan></text></g>
<g id="n104" class="nb" transform="translate(2679,2503)"><use href="#nt"/><text class="t" y="52"><tspan x="2">[I1 03:00] We didn't know who</tspan><tspan x="2" dy="14">was in charge, and apparently</tspan><tspan x="2" dy="14">there is no official reservation</tspan><tspan x="2" dy="14">system in the old science</tspan><tspan x="2" dy="14">building.</tspan></text></g>
<g id="n105" class="ng" transform="translate(2892,2503)"><use href="#nt"/><text class="t" y="44"><tspan x="2">[I2 29:30] We function on this</tspan><tspan x="2" dy="14">campus with a lot of part time</tspan><tspan x="2" dy="14">people, so the ability to be</tspan><tspan x="2" dy="14">able to train them easily on a</tspan><tspan x="2" dy="14">new software is invaluable.</tspan></text></g>
<g id="n106" class="ng" transform="translate(2788,2403)"><use href="#nt"/><text class="t" y="50"><tspan x="2">[I2 29:15] Most of the software</tspan><tspan x="2" dy="14">that's out there for scheduling,</tspan><tspan x="2" dy="14">you have to do a lot of training</tspan><tspan x="2" dy="14">on.</tspan></text></g>
<g id="n107" class="ng" transform="translate(2892,2703)"><path d="M0 0H146L170 22V184H0ZM146 0L170 22L136 13Z"/><text class="t" y="39"><tspan x="2">[I2 03:03] We just go to a</tspan><tspan x="2" dy="14">specific screen and add the</tspan><tspan x="2" dy="14">event and put in the dates they</tspan><tspan x="2" dy="14">want and the times they want</tspan><tspan x="2" dy="14">and the room they would like.</tspan><tspan x="2" dy="14">If there is a conflict we can</tspan><tspan x="2" dy="14">search other rooms and find</tspan><tspan x="2" dy="14">one that works and then</tspan><tspan x="2" dy="14">schedule the event.</tspan></text></g>
<g id="n108" class="ng" transform="translate(2013,3464)"><use href="#nt"/><text class="t" y="65"><tspan x="2">[I2 02:15] A meeting or a</tspan><tspan x="2" dy="14">tutoring sessions is considered</tspan><tspan x="2" dy="14">an event</tspan></text></g>
<g id="n109" class="ng" transform="translate(1814,3635)"><use href="#nt"/><text class="t" y="57"><tspan x="2">[I2 00:25] Keep in mind if it</tspan><tspan x="2" dy="14">would need to be a school</tspan><tspan x="2" dy="14">related event, that would be a</tspan><tspan x="2" dy="14">concern</tspan></text></g>
<g id="n110" class="nb" transform="translate(2013,3635)"><use href="#nt"/><text class="t" y="57"><tspan x="2">[I1 01:58] We have reserved a</tspan><tspan x="2" dy="14">room before and it was difficult</tspan><tspan x="2" dy="14">because it was for a club</tspan><tspan x="2" dy="14">playing games</tspan></text></g>
<g id="n111" class="ng" transform="translate(1906,3561)"><use href="#nt"/><text class="t" y="71"><tspan x="2">[I2 14:59] Academic classes</tspan><tspan x="2" dy="14">have priority for scheduling.</tspan></text></g>
<g id="n112" class="nb" transform="translate(1810,3825)"><use href="#nt"/><text class="t" y="44"><tspan x="2">[I1 02:26] We had a room</tspan><tspan x="2" dy="14">reserved, but once we started</tspan><tspan x="2" dy="14">having less people coming to</tspan><tspan x="2" dy="14">the club, then they kicked us</tspan><tspan x="2" dy="14">out of that scheduled</tspan><tspan x="2" dy="14">reservation.</tspan></text></g>
<g id="n113" class="np" transform="translate(2664,3517)"><use href="#nt"/><text class="t" y="59"><tspan x="2">[W 00:15] I call to</tspan><tspan x="2" dy="14">schedule a room and say</tspan><tspan x="2" dy="14">this and have them book it</tspan><tspan x="2" dy="14">for me.</tspan></text></g>
<g id="n114" class="ng" transform="translate(2864,3517)"><use href="#nt"/><text class="t" y="59"><tspan x="2">[I2 03:20] It doesn't take a</tspan><tspan x="2" dy="14">long time schedule an</tspan><tspan x="2" dy="14">event, we can do it in a minute</tspan><tspan x="2" dy="14">if we have very specific details.</tspan></text></g>
<g id="n115" class="nb" transform="translate(2744,3488)"><path d="M0 0H146L170 22V209H0ZM146 0L170 22L136 13Z"/><text class="t" y="38"><tspan x="2">[I1 06:22] When it's worked at</tspan><tspan x="2" dy="14">it's best we reserved a room</tspan><tspan x="2" dy="14">for a meeting  in the</tspan><tspan x="2" dy="14">horseshoe room last year and</tspan><tspan x="2" dy="14">we just went in and talked to</tspan><tspan x="2" dy="14">whoever is in charge of</tspan><tspan x="2" dy="14">scheduling at the GSC and</tspan><tspan x="2" dy="14">they put us down every week</tspan><tspan x="2" dy="14">at a certain time and we never</tspan><tspan x="2" dy="14">had any conflicts. It only took</tspan><tspan x="2" dy="14">about 2 minutes, no issues.</tspan></text></g>
<g id="n116" class="np" transform="translate(3535,2349)"><use href="#nt"/><text class="t" y="59"><tspan x="2">[W 09:15] The cost for a</tspan><tspan x="2" dy="14">scheduling system should be</tspan><tspan x="2" dy="14">in the corporate IT budget.</tspan></text></g>
<g id="n117" class="np" transform="translate(3733,2349)"><use href="#nt"/><text class="t" y="51"><tspan x="2">[W 05:00]  The scheduler is</tspan><tspan x="2" dy="14">paid for by the enterprise and</tspan><tspan x="2" dy="14">distributed to each</tspan><tspan x="2" dy="14">department.</tspan></text></g>
<g id="n118" class="ng" transform="translate(3733,2524)"><path d="M0 0H146L170 22V179H0ZM146 0L170 22L136 13Z"/><text class="t" y="37"><tspan x="2">[I2 26:40] We have quite a few</tspan><tspan x="2" dy="14">rooms, but we never have</tspan><tspan x="2" dy="14">enough. What it takes to run a</tspan><tspan x="2" dy="14">scheduling system is an IT</tspan><tspan x="2" dy="14">person to help implement and</tspan><tspan x="2" dy="14">keep it maintained on a</tspan><tspan x="2" dy="14">consistent basis. The cost for</tspan><tspan x="2" dy="14">all this huge.</tspan></text></g>
<g id="n119" class="ng" transform="translate(3637,2428)"><use href="#nt"/><text class="t" y="58"><tspan x="2">[I2 26:15] We are a small</tspan><tspan x="2" dy="14">institution, we try and keep our</tspan><tspan x="2" dy="14">costs low.</tspan></text></g>
<g id="n120" class="ng" transform="translate(3478,3393)"><use href="#nt"/><text class="t" y="38"><tspan x="2">[I2 20:33] We would have to</tspan><tspan x="2" dy="14">make sure that fee schedules</tspan><tspan x="2" dy="14">were carefully attached to a</tspan><tspan x="2" dy="14">central scheduling system,</tspan><tspan x="2" dy="14">because the Eccles center</tspan><tspan x="2" dy="14">charges for many reservations.</tspan></text></g>
<g id="n121" class="np" transform="translate(3688,3388)"><use href="#nt"/><text class="t" y="38"><tspan x="2">[W 03:30] It would have been</tspan><tspan x="2" dy="14">nice if there was a ten minute</tspan><tspan x="2" dy="14">clear out period automatically</tspan><tspan x="2" dy="14">scheduled so there is time for</tspan><tspan x="2" dy="14">room transitions, so meetings</tspan><tspan x="2" dy="14">can start on time.</tspan></text></g>
<g id="n122" class="nb" transform="translate(4220,2188)"><use href="#nt"/><text class="t" y="51"><tspan x="2">[I1 08:27] A reminder about</tspan><tspan x="2" dy="14">the reservation would be nice,</tspan><tspan x="2" dy="14">so I don't forget. A text</tspan><tspan x="2" dy="14">message or something like</tspan><tspan x="2" dy="14">that</tspan></text></g>
<g id="n123" class="np" transform="translate(4389,2188)"><use href="#nt"/><text class="t" y="37"><tspan x="2">[W 07:54] I want the room</tspan><tspan x="2" dy="14">description to be kept up to</tspan><tspan x="2" dy="14">date with what is broken, such</tspan><tspan x="2" dy="14">as technology that has been</tspan><tspan x="2" dy="14">complained about or issues</tspan><tspan x="2" dy="14">with the room.</tspan></text></g>
<g id="n124" class="ng" transform="translate(4574,2187)"><use href="#nt"/><text class="t" y="57"><tspan x="2">[I2 26:15] We are a small</tspan><tspan x="2" dy="14">institution, we try and keep our</tspan><tspan x="2" dy="14">costs low</tspan></text></g>
<g id="n125" class="nb" transform="translate(4220,2348)"><use href="#nt"/><text class="t" y="57"><tspan x="2">[I1 12:54]  Then that system</tspan><tspan x="2" dy="14">would need to be very scalable</tspan><tspan x="2" dy="14">to. I have to scale it very easily</tspan><tspan x="2" dy="14">to incorporate new buildings.</tspan></text></g>
<g id="n126" class="np" transform="translate(4404,2353)"><use href="#nt"/><text class="t" y="59"><tspan x="2">[W 12:48] I would like</tspan><tspan x="2" dy="14">notifications if the status of a</tspan><tspan x="2" dy="14">room attributes have changed</tspan></text></g>
<g id="n127" class="nb" transform="translate(4584,2354)"><path d="M0 0H146L170 22V209H0ZM146 0L170 22L136 13Z"/><text class="t" y="40"><tspan x="2">[I1 06:22] When it's worked at</tspan><tspan x="2" dy="14">it's best we reserved a room</tspan><tspan x="2" dy="14">for a meeting  in the</tspan><tspan x="2" dy="14">horseshoe room last year and</tspan><tspan x="2" dy="14">we just went in and talked to</tspan><tspan x="2" dy="14">whoever is in charge of</tspan><tspan x="2" dy="14">scheduling at the GSC and</tspan><tspan x="2" dy="14">they put us down every week</tspan><tspan x="2" dy="14">at a certain time and we never</tspan><tspan x="2" dy="14">had any conflicts. It only took</tspan><tspan x="2" dy="14">about 2 minutes, no issues</tspan></text></g>
<g id="n128" class="ng" transform="translate(4209,2586)"><use href="#nt"/><text class="t" y="73"><tspan x="2">[I2 14:59] Academic classes</tspan><tspan x="2" dy="14">have priority for scheduling.</tspan></text></g>
<g id="n129" class="ng" transform="translate(4404,2586)"><path d="M0 0H146L170 22V179H0ZM146 0L170 22L136 13Z"/><text class="t" y="31"><tspan x="2">[I2 18:53] It very hard to</tspan><tspan x="2" dy="14">change because everyone has</tspan><tspan x="2" dy="14">ownership in the part of</tspan><tspan x="2" dy="14">campus that they are</tspan><tspan x="2" dy="14">scheduling and it would be</tspan><tspan x="2" dy="14">hard for them to give up their</tspan><tspan x="2" dy="14">power. They feel responsibility</tspan><tspan x="2" dy="14">for it and feel like they can</tspan><tspan x="2" dy="14">take care of it better than a</tspan><tspan x="2" dy="14">central scheduler.</tspan></text></g>
<g id="n130" class="np" transform="translate(4584,2615)"><path d="M0 0H146L170 22V148H0ZM146 0L170 22L136 13Z"/><text class="t" y="28"><tspan x="2">[W 14:22] Most important to</tspan><tspan x="2" dy="14">me is understanding the</tspan><tspan x="2" dy="14">alternatives, I want to know my</tspan><tspan x="2" dy="14">room options so I can pick the</tspan><tspan x="2" dy="14">best option. Accuracy is</tspan><tspan x="2" dy="14">implied, don't tell me the room</tspan><tspan x="2" dy="14">is available if it's flooded.</tspan></text></g>
<g id="n131" class="ng" transform="translate(4220,2807)"><use href="#nt"/><text class="t" y="52"><tspan x="2">[I2 29:15] Most of the software</tspan><tspan x="2" dy="14">thats out there for scheduling,</tspan><tspan x="2" dy="14">you have to do a lot of training</tspan><tspan x="2" dy="14">on</tspan></text></g>
<g id="n132" class="nb" transform="translate(4404,2812)"><use href="#nt"/><text class="t" y="58"><tspan x="2">[I1 25:08] I want the</tspan><tspan x="2" dy="14">reservation to drop if they don't</tspan><tspan x="2" dy="14">show up after a certain amount</tspan><tspan x="2" dy="14">of time.</tspan></text></g>
<g id="n133" class="nb" transform="translate(4594,2807)"><use href="#nt"/><text class="t" y="44"><tspan x="2">[I1 01:26] The current system</tspan><tspan x="2" dy="14">is somewhat effective because</tspan><tspan x="2" dy="14">you can get the room</tspan><tspan x="2" dy="14">reserved, and you hopefully</tspan><tspan x="2" dy="14">won't get kicked out if you</tspan><tspan x="2" dy="14">have a reservation.</tspan></text></g>
<g id="n134" class="nb" transform="translate(4210,2991)"><path d="M0 0H146L170 22V140H0ZM146 0L170 22L136 13Z"/><text class="t" y="46"><tspan x="2">[I1 16:30] I want a uniform and</tspan><tspan x="2" dy="14">consistent interface so the</tspan><tspan x="2" dy="14">experience is the same</tspan><tspan x="2" dy="14">wherever you access the</tspan><tspan x="2" dy="14">system.</tspan></text></g>
<g id="n135" class="ng" transform="translate(4415,2981)"><use href="#nt"/><text class="t" y="65"><tspan x="2">[I2 09:17] We don't have a ton</tspan><tspan x="2" dy="14">of outside businesses coming</tspan><tspan x="2" dy="14">in to use our rooms.</tspan></text></g>
<g id="n136" class="nb" transform="translate(4614,2986)"><use href="#nt"/><text class="t" y="57"><tspan x="2">[I1 22:58] I think there should</tspan><tspan x="2" dy="14">be a website available so we</tspan><tspan x="2" dy="14">can make reservations from</tspan><tspan x="2" dy="14">anywhere.</tspan></text></g>
<g id="n137" class="nb" transform="translate(4179,3148)"><use href="#nt"/><text class="t" y="66"><tspan x="2">[I1 21:00] We need someone</tspan><tspan x="2" dy="14">there to help us out if we need</tspan><tspan x="2" dy="14">it</tspan></text></g>
<g id="n138" class="np" transform="translate(4415,3148)"><use href="#nt"/><text class="t" y="52"><tspan x="2">[W 06:20] The goal in any</tspan><tspan x="2" dy="14">scheduling system is self</tspan><tspan x="2" dy="14">service, but there is always an</tspan><tspan x="2" dy="14">admin to assist</tspan></text></g>
<g id="n139" class="ng" transform="translate(4644,3148)"><use href="#nt"/><text class="t" y="58"><tspan x="2">[I2 21:45] I would like to see a</tspan><tspan x="2" dy="14">vacancy list that anyone can</tspan><tspan x="2" dy="14">view.</tspan></text></g>
<g id="n140" class="ng" transform="translate(4179,3335)"><use href="#nt"/><text class="t" y="30"><tspan x="2">[I2 23:18] We live in the world</tspan><tspan x="2" dy="14">of protecting privacy, the</tspan><tspan x="2" dy="14">federal privacy act of 1974, so</tspan><tspan x="2" dy="14">everytime something happens</tspan><tspan x="2" dy="14">we're stopping to ask “Is this</tspan><tspan x="2" dy="14">going to violate anyone's</tspan><tspan x="2" dy="14">privacy?”</tspan></text></g>
</g>
</g>
</svg>
